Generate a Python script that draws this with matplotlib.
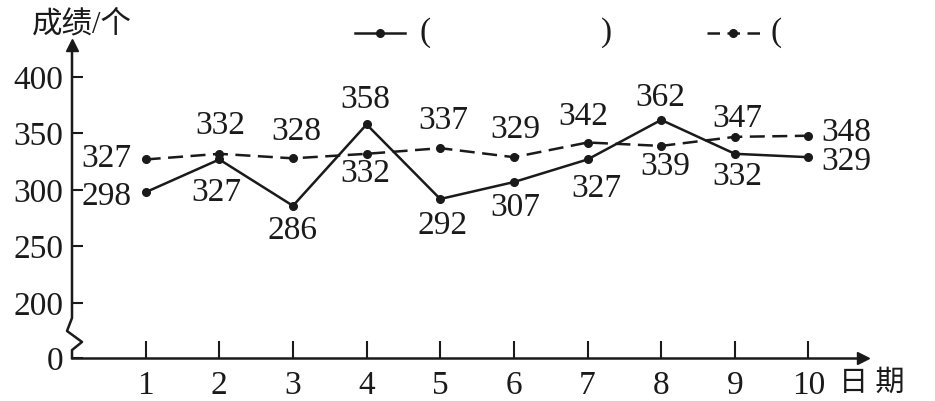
import numpy as np
import matplotlib.pyplot as plt
from matplotlib.lines import Line2D
from matplotlib.transforms import blended_transform_factory

plt.rcParams['font.family'] = ['Liberation Serif', 'Noto Sans CJK SC']

days = [1, 2, 3, 4, 5, 6, 7, 8, 9, 10]
solid_vals = [298, 327, 286, 358, 292, 307, 327, 362, 332, 329]
dashed_vals = [327, 332, 328, 332, 337, 329, 342, 339, 347, 348]
ytick_vals = [200, 250, 300, 350, 400]
ylabel = '成绩/个'
xlabel = '日 期'

# label offsets in pixels (dx, dy)
solid_off = [(-39, -5), (-3, -33), (0, -25), (-1, 25), (2, -27),
             (1, -26), (9, -29), (-1, 22), (2, -23), (38, -5)]
dashed_off = [(-39, 1), (1, 28), (3, 27), (-1, -20), (3, 27),
              (1, 27), (-4, 26), (4, -21), (2, 18), (38, 3)]

y0 = 151.3   # where "0" sits (broken axis)
W, H = 935, 401
fig = plt.figure(figsize=(W / 100, H / 100), dpi=100)
ax = fig.add_axes([72 / W, 43 / H, 791 / W, 313 / H])
ax.set_xlim(0, 10.74)
ax.set_ylim(y0, y0 + 313 / 1.13)

lc = '#1a1a1a'
fs = 24
lw = 1.8
ax.plot(days, solid_vals, color=lc, lw=lw, marker='o', ms=5.5)
ax.plot(days, dashed_vals, color=lc, lw=lw, marker='o', ms=5.5,
        dashes=(6, 3))

for x, v, off in zip(days, solid_vals, solid_off):
    ax.annotate(str(v), (x, v), xytext=off, textcoords='offset pixels',
                ha='center', va='center', fontsize=fs, color=lc)
for x, v, off in zip(days, dashed_vals, dashed_off):
    ax.annotate(str(v), (x, v), xytext=off, textcoords='offset pixels',
                ha='center', va='center', fontsize=fs, color=lc)

# axes
for s in ['top', 'right', 'left']:
    ax.spines[s].set_visible(False)
ax.spines['bottom'].set_linewidth(lw)
ax.spines['bottom'].set_color(lc)

tr = blended_transform_factory(ax.transAxes, ax.transData)
px = 1 / 791
zig_x = [0, 0, -5 * px, 10 * px, 0, 0]
zig_y = [ax.get_ylim()[1], 186.7, 175.2, 165.5, 158.3, y0]
ax.plot(zig_x, zig_y, color=lc, lw=lw, transform=tr, clip_on=False)
ax.plot(0, 1, '^', color=lc, ms=9, transform=ax.transAxes, clip_on=False)
ax.plot(1, 0, '>', color=lc, ms=9, transform=ax.transAxes, clip_on=False)

ax.set_xticks(days)
ax.set_xticklabels([str(d) for d in days])
ax.set_yticks([y0] + ytick_vals)
ax.set_yticklabels(['0'] + [str(v) for v in ytick_vals])
ax.tick_params(axis='x', direction='in', length=12, width=1.5, color=lc,
               labelsize=fs, pad=9, labelcolor=lc)
ax.tick_params(axis='y', direction='in', length=8, width=1.5, color=lc,
               labelsize=fs, pad=6, labelcolor=lc)

fig.text(82 / W, 1 - 25 / H, ylabel, ha='center', va='center',
         fontsize=22, color=lc)
fig.text(872 / W, 1 - 383 / H, xlabel, ha='center', va='center',
         fontsize=21, color=lc)

# legend
ly = 1 - 33 / H
fig.add_artist(Line2D([355 / W, 405 / W], [ly, ly], color=lc, lw=lw))
fig.add_artist(Line2D([380 / W], [ly], color=lc, marker='o', ms=5.5))
fig.add_artist(Line2D([707 / W, 760 / W], [ly, ly], color=lc, lw=lw,
                      dashes=(5, 3)))
fig.add_artist(Line2D([733 / W], [ly], color=lc, marker='o', ms=5.5))
fig.text(425 / W, ly, '(', ha='center', va='center', fontsize=fs, color=lc)
fig.text(607 / W, ly, ')', ha='center', va='center', fontsize=fs, color=lc)
fig.text(776 / W, ly, '(', ha='center', va='center', fontsize=fs, color=lc)

fig.savefig('out.png', dpi=100, facecolor='white')
